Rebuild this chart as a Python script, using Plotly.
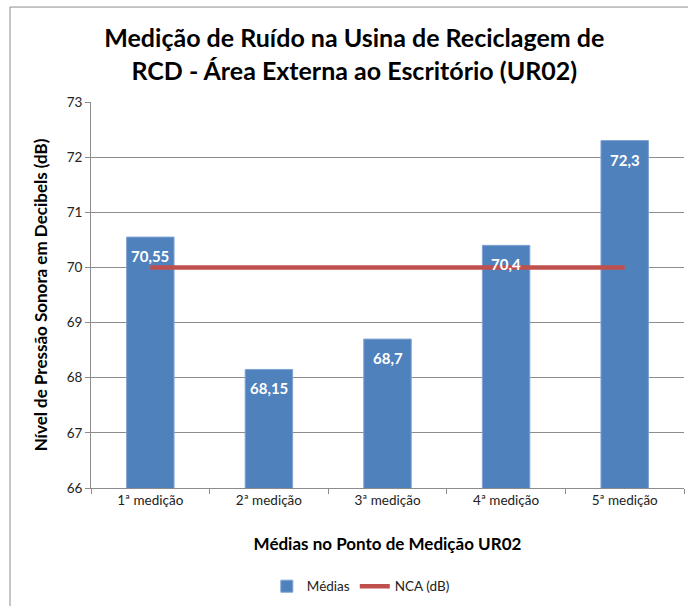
import plotly.graph_objects as go

# Noise measurement data (dB) at point UR02
categories = ["1ª medição", "2ª medição", "3ª medição", "4ª medição", "5ª medição"]
medias = [70.55, 68.15, 68.7, 70.4, 72.3]
nca = [70, 70, 70, 70, 70]

labels = [str(v).replace(".", ",") for v in medias]

font_family = "Lato, 'Open Sans', sans-serif"
grid_color = "#8C8C8C"

fig = go.Figure()

fig.add_trace(go.Bar(
    x=categories,
    y=medias,
    name="Médias",
    marker=dict(color="#4F81BD", line=dict(color="#7FA3D3", width=1)),
    width=0.4,
))

fig.add_trace(go.Scatter(
    x=categories,
    y=nca,
    name="NCA (dB)",
    mode="lines",
    line=dict(color="#C0504D", width=4.5),
))

# Value labels placed just inside the top of each bar
for c, v, t in zip(categories, medias, labels):
    fig.add_annotation(
        x=c, y=v, text=f"<b>{t}</b>", showarrow=False,
        yshift=-19, font=dict(family=font_family, size=15, color="white"),
    )

# Outer chart frame (left and top edges)
fig.add_shape(type="line", xref="paper", yref="paper",
              x0=-0.1366, x1=-0.1366, y0=-0.32, y1=1.246,
              line=dict(color="#8C8C8C", width=1))
fig.add_shape(type="line", xref="paper", yref="paper",
              x0=-0.1366, x1=1.02, y0=1.246, y1=1.246,
              line=dict(color="#8C8C8C", width=1))

fig.update_layout(
    width=688, height=606,
    margin=dict(l=91, r=4, t=102, b=118),
    paper_bgcolor="white",
    plot_bgcolor="white",
    font=dict(family=font_family, size=13, color="#222222"),
    title=dict(
        text="<b>Medição de Ruído na Usina de Reciclagem de<br>RCD - Área Externa ao Escritório (UR02)</b>",
        x=0.515, xanchor="center", y=0.922, yanchor="middle",
        font=dict(family=font_family, size=25, color="black"),
    ),
    showlegend=True,
    legend=dict(
        orientation="h", x=0.455, xanchor="center", y=-0.255, yanchor="middle",
        font=dict(family=font_family, size=13.5, color="#222222"),
        traceorder="normal",
    ),
    bargap=0.6,
)

fig.update_xaxes(
    type="category",
    showline=True, linecolor=grid_color, linewidth=1,
    ticks="outside", tickson="boundaries", ticklen=5, tickcolor=grid_color,
    showgrid=False,
    tickfont=dict(family=font_family, size=13.5, color="#222222"),
    title=dict(text="<b>Médias no Ponto de Medição UR02</b>",
               font=dict(family=font_family, size=17, color="black"), standoff=30),
)

fig.update_yaxes(
    range=[66, 73], dtick=1,
    showline=True, linecolor=grid_color, linewidth=1,
    ticks="outside", ticklen=5, tickcolor=grid_color,
    showgrid=True, gridcolor=grid_color, gridwidth=1,
    zeroline=False,
    tickfont=dict(family=font_family, size=13.5, color="#222222"),
    title=dict(text="<b>Nível de Pressão Sonora em Decibels (dB)</b>",
               font=dict(family=font_family, size=17, color="black"), standoff=14),
)

fig.write_html("out.html")
